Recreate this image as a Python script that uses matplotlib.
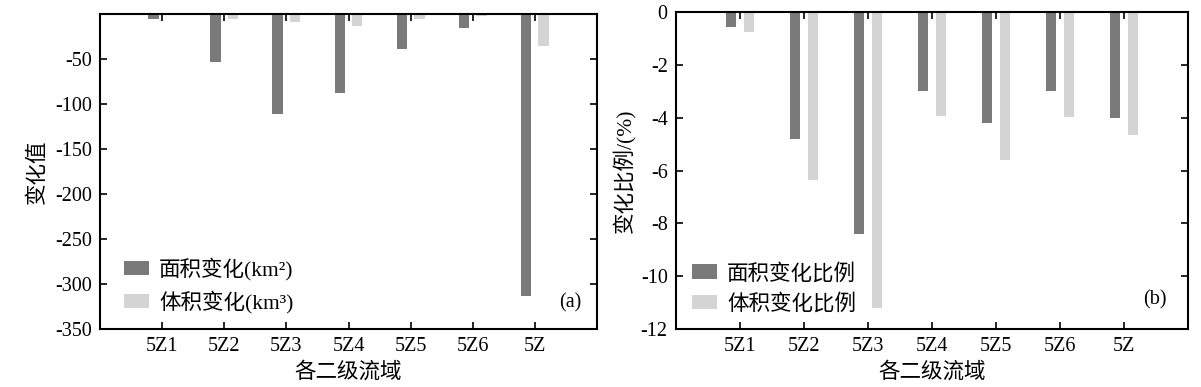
import matplotlib
matplotlib.use('Agg')
import matplotlib.pyplot as plt
import numpy as np

plt.rcParams['font.family'] = ['Liberation Serif', 'Noto Sans CJK SC']
plt.rcParams['font.size'] = 14.5
plt.rcParams['axes.unicode_minus'] = False

# Data
basins = ['5Z1', '5Z2', '5Z3', '5Z4', '5Z5', '5Z6', '5Z']
area_change = [-6, -53, -111, -88, -39, -16, -313]        # km2
volume_change = [-0.5, -6, -9, -13.5, -5, -2, -36]        # km3
area_ratio = [-0.58, -4.8, -8.4, -3.0, -4.19, -3.0, -4.0]  # %
volume_ratio = [-0.77, -6.36, -11.2, -3.93, -5.6, -3.97, -4.66]  # %

dark = '#7a7a7a'
light = '#d4d4d4'
cn = 15.5

fig = plt.figure(figsize=(12.01, 3.87), dpi=100)
ax1 = fig.add_axes([100 / 1201, 58 / 387, 497 / 1201, 315 / 387])
ax2 = fig.add_axes([676 / 1201, 58 / 387, 512 / 1201, 317 / 387])

x = np.arange(1, len(basins) + 1)
w = 0.17
off = 0.14


def style(ax):
    ax.set_xlim(0, 8)
    ax.set_xticks(x)
    ax.set_xticklabels(basins)
    ax.tick_params(direction='in', top=True, right=True, length=5, width=1.2, pad=6)
    for s in ax.spines.values():
        s.set_linewidth(1.5)
    ax.set_xlabel('各二级流域', fontsize=cn)
    ax.xaxis.set_label_coords(0.5, -0.105)


def add_legend(ax, xa, ya):
    ax.legend(loc='lower left', bbox_to_anchor=(xa, ya), frameon=False,
              fontsize=cn, borderpad=0, borderaxespad=0,
              handlelength=1.16, handleheight=0.65, labelspacing=0.45,
              handletextpad=0.47)


ax1.bar(x - off, area_change, w, color=dark, label='面积变化(km²)')
ax1.bar(x + off, volume_change, w, color=light, label='体积变化(km³)')
style(ax1)
ax1.set_ylim(-350, 0)
ax1.set_yticks([-50, -100, -150, -200, -250, -300, -350])
ax1.set_ylabel('变化值', fontsize=cn)
ax1.yaxis.set_label_coords(-0.105, 0.5)
add_legend(ax1, 0.048, 0.05)
ax1.text(0.946, 0.083, '(a)', transform=ax1.transAxes, ha='center', va='center')

ax2.bar(x - off, area_ratio, w, color=dark, label='面积变化比例')
ax2.bar(x + off, volume_ratio, w, color=light, label='体积变化比例')
style(ax2)
ax2.set_ylim(-12, 0)
ax2.set_yticks([0, -2, -4, -6, -8, -10, -12])
ax2.set_ylabel('变化比例/(%)', fontsize=cn)
ax2.yaxis.set_label_coords(-0.08, 0.5)
add_legend(ax2, 0.031, 0.045)
ax2.text(0.935, 0.092, '(b)', transform=ax2.transAxes, ha='center', va='center')

fig.savefig('out.png', dpi=100)
